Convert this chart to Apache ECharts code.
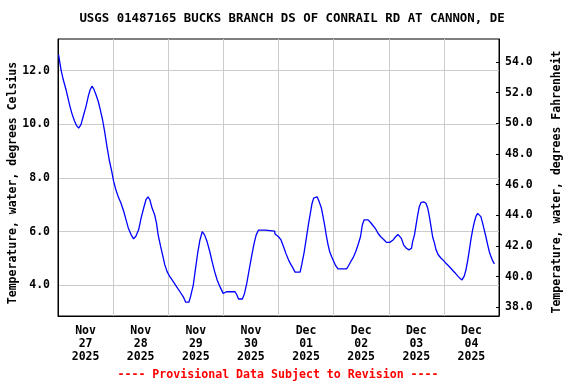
<!DOCTYPE html>
<html>
<head>
<meta charset="utf-8">
<script src="https://cdn.jsdelivr.net/npm/echarts@6/dist/echarts.min.js"></script>
<style>html,body{margin:0;padding:0;background:#fff}#c{width:576px;height:384px}</style>
</head>
<body>
<div id="c"></div>
<script>
// Hours since 2025-11-27 00:00
var hours = [0.25,1.3,2.3,3.5,4.35,5.2,6.1,7.1,8.1,9.0,10.0,11.0,12.2,13.2,14.0,14.8,15.5,16.5,17.5,18.4,19.4,20.4,21.3,22.3,23.4,24.2,25.2,26.4,27.4,28.6,29.6,30.6,31.8,32.9,33.9,35.1,36.2,37.3,38.3,39.2,40.0,41.0,42.1,42.9,43.6,44.7,45.7,46.5,47.5,48.7,50.2,51.6,53.1,54.5,55.6,57.0,57.7,58.9,59.9,60.9,61.8,62.8,63.8,64.9,66.1,67.1,68.2,69.3,70.5,71.9,73.4,77.1,77.9,78.6,80.3,81.2,82.2,83.2,84.4,85.4,86.3,87.3,90.2,94.3,94.5,96.0,97.1,98.2,99.2,100.4,101.5,102.5,103.2,105.4,106.1,107.2,108.1,109.1,109.8,110.6,111.3,111.8,112.8,113.7,114.7,115.4,116.2,116.9,117.6,118.3,119.1,120.1,120.9,121.9,125.6,126.3,127.3,128.5,129.6,130.6,131.7,132.5,133.3,134.0,135.0,136.0,137.2,138.3,139.3,140.5,142.0,143.0,144.4,145.9,147.0,148.0,148.8,149.5,150.5,151.7,152.8,153.9,154.4,155.2,155.9,156.6,157.3,158.0,159.2,160.2,161.0,161.7,162.4,163.1,163.9,164.6,165.6,166.8,167.9,168.9,170.1,171.4,172.8,174.0,175.0,175.9,176.9,177.6,178.4,179.1,179.8,180.5,181.3,182.0,182.7,183.4,184.1,184.9,185.6,186.3,187.1,187.8,188.5,189.2,190.0];
var tempC = [12.6,12.04,11.66,11.29,10.98,10.67,10.39,10.14,9.95,9.86,9.99,10.30,10.67,11.05,11.29,11.42,11.33,11.11,10.86,10.55,10.17,9.68,9.18,8.68,8.25,7.88,7.56,7.26,7.07,6.76,6.45,6.14,5.89,5.73,5.83,6.07,6.51,6.88,7.19,7.30,7.18,6.87,6.62,6.31,5.88,5.44,5.07,4.76,4.51,4.32,4.14,3.95,3.76,3.58,3.37,3.37,3.58,4.01,4.64,5.25,5.69,6.00,5.88,5.63,5.25,4.88,4.51,4.20,3.95,3.70,3.76,3.76,3.64,3.49,3.49,3.70,4.08,4.57,5.13,5.57,5.88,6.06,6.06,6.02,5.91,5.81,5.69,5.44,5.19,4.94,4.76,4.61,4.49,4.49,4.76,5.25,5.75,6.31,6.65,7.05,7.25,7.30,7.30,7.12,6.87,6.56,6.19,5.81,5.50,5.25,5.07,4.88,4.73,4.61,4.61,4.70,4.86,5.03,5.25,5.50,5.81,6.25,6.44,6.50,6.44,6.35,6.22,6.10,5.94,5.81,5.69,5.60,5.60,5.69,5.81,5.90,5.88,5.75,5.50,5.38,5.32,5.38,5.63,5.88,6.25,6.62,6.93,7.08,7.11,7.06,6.87,6.56,6.19,5.81,5.57,5.32,5.13,5.01,4.92,4.82,4.72,4.60,4.47,4.35,4.26,4.20,4.35,4.57,4.94,5.32,5.72,6.06,6.37,6.58,6.68,6.66,6.56,6.31,6.06,5.81,5.50,5.25,5.07,4.92,4.80];
var dayLabels = ['Nov\n27\n2025','Nov\n28\n2025','Nov\n29\n2025','Nov\n30\n2025','Dec\n01\n2025','Dec\n02\n2025','Dec\n03\n2025','Dec\n04\n2025'];
var celsiusTicks = [4,6,8,10,12];
var fahrenheitTicks = [38,40,42,44,46,48,50,52,54];
var titleText = 'USGS 01487165 BUCKS BRANCH DS OF CONRAIL RD AT CANNON, DE';
var footerText = '---- Provisional Data Subject to Revision ----';
var leftName = 'Temperature, water, degrees Celsius';
var rightName = 'Temperature, water, degrees Fahrenheit';

var FONT = '"DejaVu Sans Mono", "Liberation Mono", monospace';
var pts = hours.map(function(h, i){ return [h, tempC[i]]; });
var labelPos = dayLabels.map(function(_, i){ return 12 + 24 * i; });

var chart = echarts.init(document.getElementById('c'), null, {renderer: 'canvas'});
chart.setOption({
  animation: false,
  backgroundColor: '#fff',
  grid: {left: 58, right: 77, top: 39, bottom: 68, containLabel: false, outerBoundsMode: 'none',
    show: true, borderColor: '#000', borderWidth: 1, backgroundColor: 'transparent'},
  graphic: [
    {type: 'text', x: 292, y: 19, style: {text: titleText, fill: '#000', font: 'bold 12.4px ' + FONT, align: 'center', verticalAlign: 'middle'}},
    {type: 'text', x: 278, y: 375, style: {text: footerText, fill: '#ff0000', font: 'bold 11.6px ' + FONT, align: 'center', verticalAlign: 'middle'}},
    {type: 'text', x: 13, y: 183, rotation: Math.PI / 2, style: {text: leftName, fill: '#000', font: 'bold 11.5px ' + FONT, align: 'center', verticalAlign: 'middle'}},
    {type: 'text', x: 557, y: 182, rotation: Math.PI / 2, style: {text: rightName, fill: '#000', font: 'bold 11.5px ' + FONT, align: 'center', verticalAlign: 'middle'}}
  ],
  xAxis: {
    type: 'value', min: 0, max: 192, interval: 24, position: 'bottom',
    axisLine: {show: true, lineStyle: {color: '#000', width: 1}},
    axisTick: {show: false},
    splitLine: {show: true, lineStyle: {color: '#cccccc', width: 1}},
    axisLabel: {
      customValues: labelPos,
      margin: 9,
      color: '#000', fontFamily: FONT, fontWeight: 'bold', fontSize: 11.5, lineHeight: 13,
      formatter: function(v){ var i = Math.round((v - 12) / 24); return dayLabels[i] || ''; }
    }
  },
  yAxis: [
    {
      type: 'value', min: 2.856, max: 13.18, position: 'left',
      axisLine: {show: true, lineStyle: {color: '#000', width: 1}},
      axisTick: {show: false, customValues: celsiusTicks},
      splitLine: {show: true, lineStyle: {color: '#cccccc', width: 1}},
      axisLabel: {customValues: celsiusTicks, margin: 8, color: '#000', fontFamily: FONT, fontWeight: 'bold', fontSize: 11.5,
        formatter: function(v){ return v.toFixed(1); }}
    },
    {
      type: 'value', min: 37.43, max: 55.5, position: 'right',
      axisLine: {show: true, lineStyle: {color: '#000', width: 1}},
      axisTick: {show: true, inside: true, length: 3, customValues: fahrenheitTicks, lineStyle: {color: '#000'}},
      splitLine: {show: false},
      axisLabel: {customValues: fahrenheitTicks, margin: 6, color: '#000', fontFamily: FONT, fontWeight: 'bold', fontSize: 11.5,
        formatter: function(v){ return v.toFixed(1); }}
    }
  ],
  series: [{
    type: 'line', yAxisIndex: 0, data: pts, showSymbol: false, symbol: 'none',
    lineStyle: {color: '#0000ff', width: 1.3}, silent: true
  }]
});
</script>
</body>
</html>
